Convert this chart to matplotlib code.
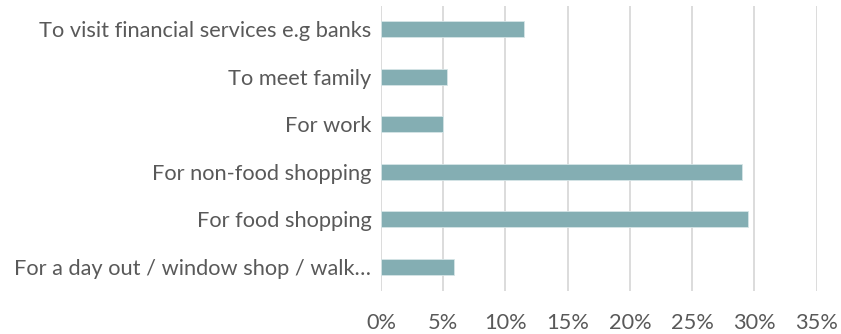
import matplotlib.pyplot as plt
from matplotlib.ticker import PercentFormatter

categories = [
    "For a day out / window shop / walk\u2026",
    "For food shopping",
    "For non-food shopping",
    "For work",
    "To meet family",
    "To visit financial services e.g banks",
]
values = [5.9, 29.5, 29.0, 5.0, 5.3, 11.5]
ticks = [0, 5, 10, 15, 20, 25, 30, 35]

plt.rcParams['font.family'] = ['Lato', 'DejaVu Sans']

fig = plt.figure(figsize=(8.41, 3.34), dpi=100)
ax = fig.add_axes([381 / 841, 1 - 290.5 / 334, (816.7 - 381) / 841, 285 / 334])

ax.barh(range(len(categories)), values, height=0.34, color='#84aeb3',
        edgecolor='#d6e5e7', linewidth=0.6, zorder=3)

ax.set_xlim(0, 35)
ax.set_ylim(-0.5, len(categories) - 0.5)
ax.set_xticks(ticks)
ax.xaxis.set_major_formatter(PercentFormatter(decimals=0))
ax.set_yticks(range(len(categories)))
ax.set_yticklabels(categories)
ax.grid(axis='x', color='#d9d9d9', linewidth=1.3, zorder=0)
ax.tick_params(length=0, labelsize=15.7, labelcolor='#595959')
ax.tick_params(axis='x', pad=16)
ax.tick_params(axis='y', pad=7)
for s in ax.spines.values():
    s.set_visible(False)

fig.savefig('out.png')
